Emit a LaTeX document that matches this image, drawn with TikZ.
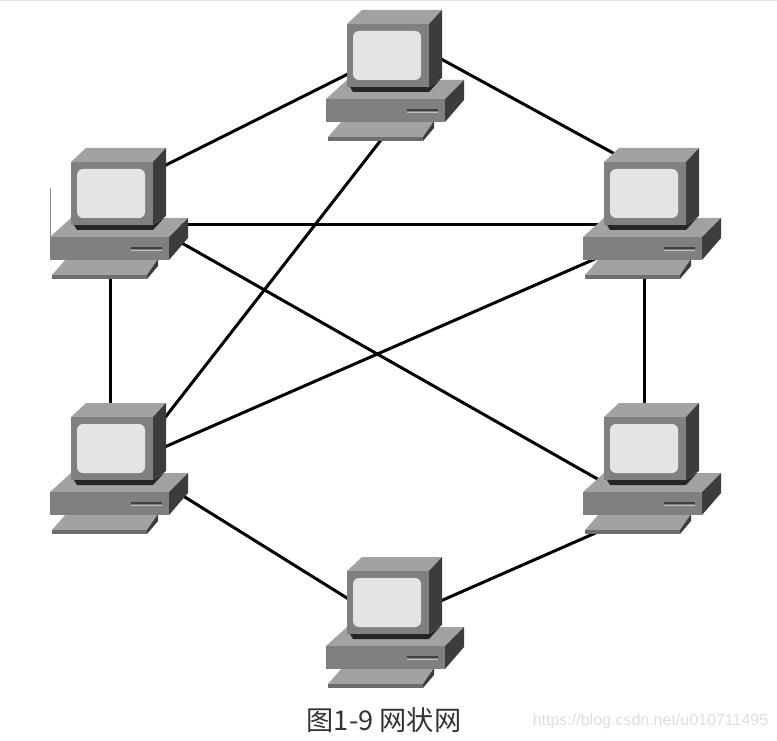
\documentclass[tikz,border=0pt]{standalone}
\usepackage{fontspec}
\setsansfont{Liberation Sans}
\newfontfamily\cjk{Noto Sans CJK SC}
\definecolor{topgray}{RGB}{162,162,162}
\definecolor{framegray}{RGB}{128,128,128}
\definecolor{sidegray}{RGB}{60,60,60}
\definecolor{screengray}{RGB}{228,228,228}
\definecolor{markgray}{RGB}{222,222,222}
\tikzset{
  link/.style={line width=2.25pt,color=black},
  computer/.pic={
    \begin{scope}[yscale=-1]
    %keyboard
    \fill [topgray] (-100,111) -- (-8,111) -- (-19,127) -- (-114,127) -- cycle;
    \fill [framegray!85!black] (-114,127) -- (-19,127) -- (-19,131) -- (-114,131) -- cycle;
    \fill [sidegray] (-8,111) -- (-8,118) -- (-19,131) -- (-19,127) -- cycle;
    %base
    \fill [topgray] (-116,89) -- (-95,70) -- (22,70) -- (3,89) -- cycle;
    \fill [framegray] (-116,89) rectangle (3,112);
    \fill [sidegray] (3,89) -- (22,70) -- (22,90) -- (3,112) -- cycle;
    \draw [line width=0.9pt,color=black!75] (-35,100) -- (-4,100);
    \draw [line width=0.6pt,color=black!25] (-35,102) -- (-4,102);
    %shadow
    \fill [black!85] (-92,77) -- (-13,77) -- (-2,70) -- (-13,82) -- (-89,82) -- cycle;
    %monitor
    \fill [topgray] (-95,14) -- (-80,0) -- (0,0) -- (-13,14) -- cycle;
    \fill [framegray] (-95,14) rectangle (-13,77);
    \fill [sidegray] (-13,14) -- (0,0) -- (0,68) -- (-13,77) -- cycle;
    \fill [screengray,rounded corners=4.5pt] (-89,21) rectangle (-21,70);
    \end{scope}
  }
}
\begin{document}
\begin{tikzpicture}[x=0.75pt,y=0.75pt,yscale=-1,xscale=1]
\useasboundingbox (0,0) rectangle (777,741);

%Connector ends
\coordinate (topW) at (350,73);
\coordinate (topE) at (436,56.2);
\coordinate (topS) at (381,140);
\coordinate (upLeftNE) at (160,168);
\coordinate (upLeftE) at (180,224.5);
\coordinate (upLeftSE) at (180,242);
\coordinate (upLeftS) at (110,275);
\coordinate (upRightNW) at (618,155.7);
\coordinate (upRightW) at (600,224.5);
\coordinate (upRightSW) at (596,258.5);
\coordinate (upRightS) at (644,275);
\coordinate (lowLeftN) at (110,408);
\coordinate (lowLeftNE) at (160,424);
\coordinate (lowLeftE) at (160,449);
\coordinate (lowLeftSE) at (180,494);
\coordinate (lowRightN) at (644,408);
\coordinate (lowRightW) at (601,481);
\coordinate (lowRightSW) at (600,531);
\coordinate (bottomW) at (355,603);
\coordinate (bottomE) at (436,603);

%Straight Lines
\draw [link] (topW) -- (upLeftNE);
\draw [link] (topE) -- (upRightNW);
\draw [link] (topS) -- (lowLeftNE);
\draw [link] (upLeftE) -- (upRightW);
\draw [link] (upLeftSE) -- (lowRightW);
\draw [link] (upLeftS) -- (lowLeftN);
\draw [link] (upRightSW) -- (lowLeftE);
\draw [link] (upRightS) -- (lowRightN);
\draw [link] (lowLeftSE) -- (bottomW);
\draw [link] (bottomE) -- (lowRightSW);

%Scan marks
\draw [line width=0.75pt,color=black!12] (0,0.5) -- (777,0.5);
\draw [line width=0.75pt,color=black!45] (50.5,188) -- (50.5,237);

%Computers
\pic (top) at (442,10) {computer};
\pic (upLeft) at (166,148) {computer};
\pic (upRight) at (699,148) {computer};
\pic (lowLeft) at (166,403) {computer};
\pic (lowRight) at (699,403) {computer};
\pic (bottom) at (442,557) {computer};

% Text Node
\node (caption) at (384,720) [inner sep=0.75pt,font=\fontsize{20.4}{24}\selectfont\cjk,color=black!80] {图1-9 网状网};
% Text Node
\node (watermark) at (650.5,721) [inner sep=0.75pt,font=\fontsize{12}{15}\selectfont\sffamily,color=markgray] {https://blog.csdn.net/u010711495};

\end{tikzpicture}
\end{document}
